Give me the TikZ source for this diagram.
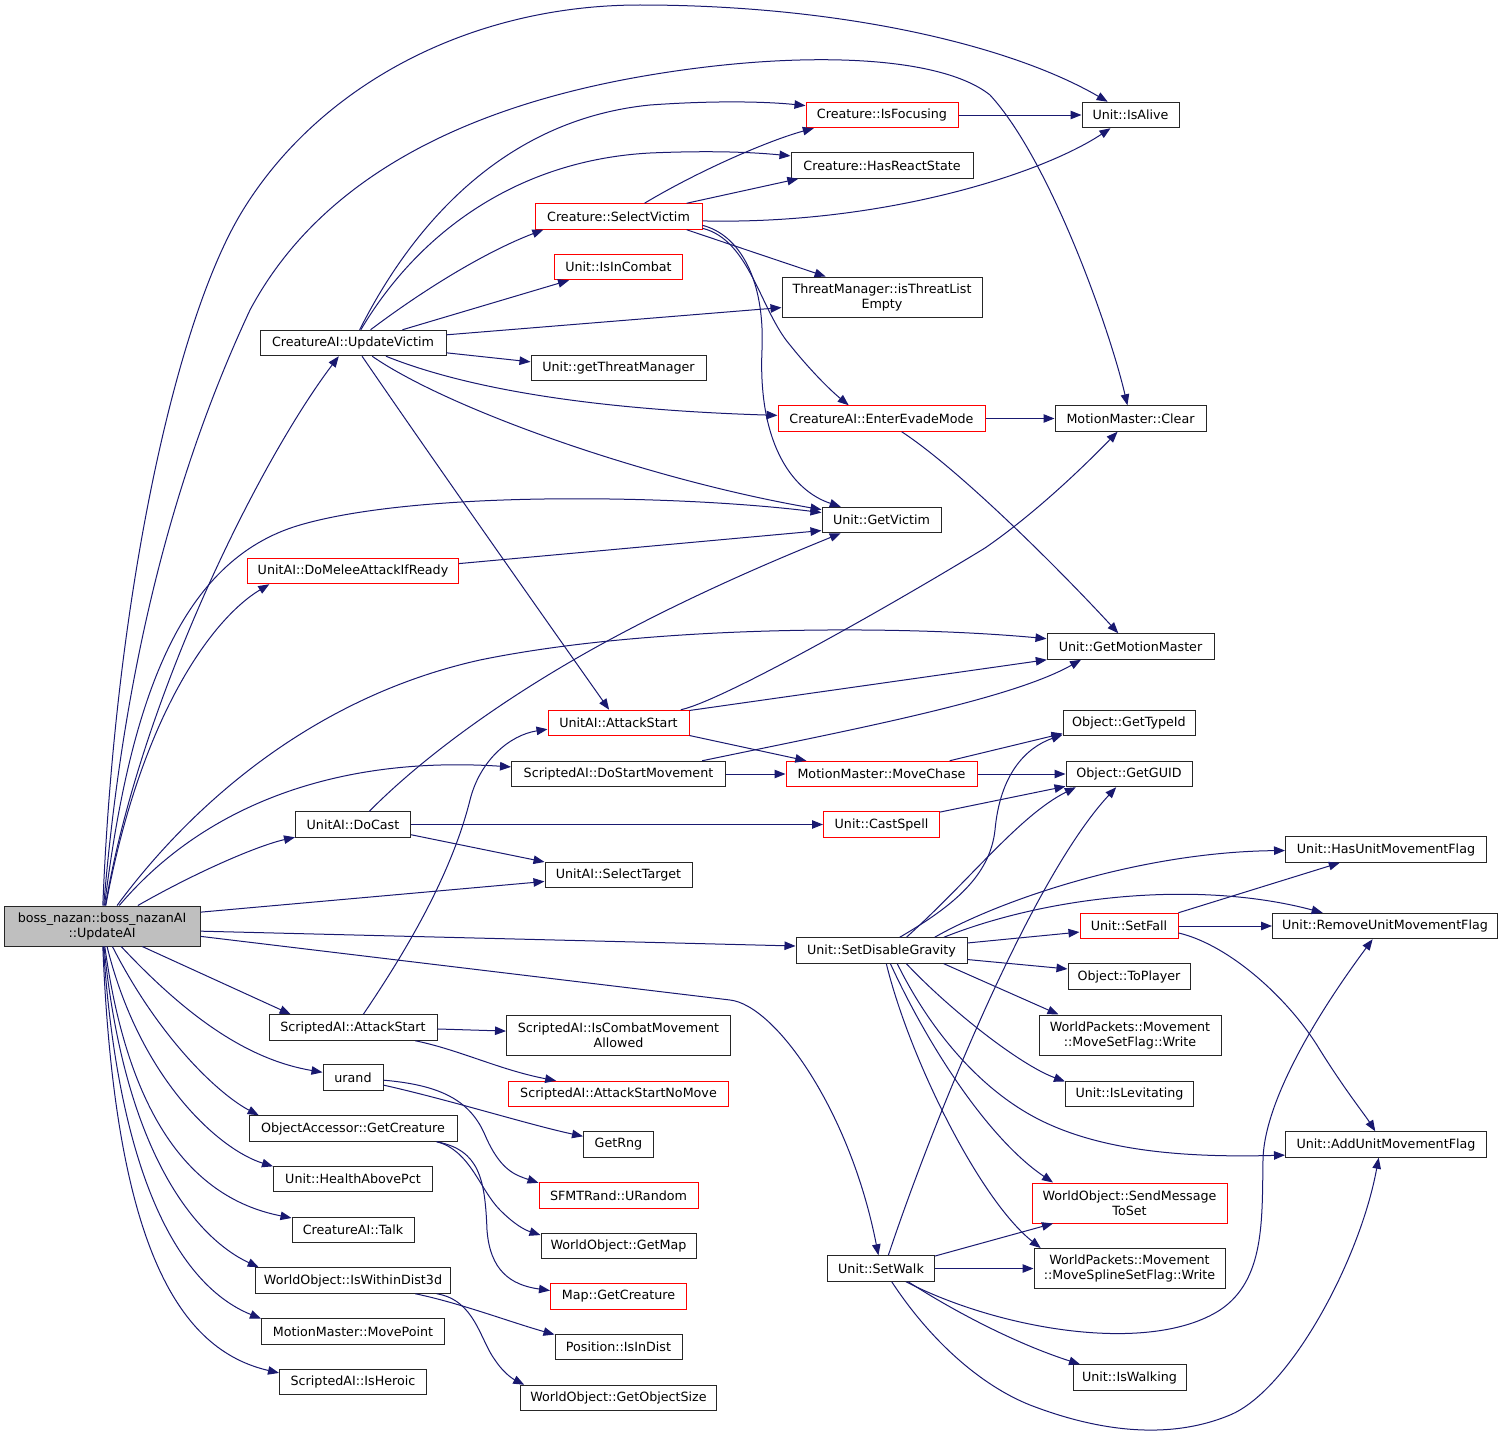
\documentclass[tikz,border=0pt]{standalone}
\usepackage{fontspec}
\setmainfont{DejaVu Sans}
\usetikzlibrary{arrows.meta}
\definecolor{edgeblue}{RGB}{25,25,112}
\definecolor{boxred}{RGB}{255,0,0}
\definecolor{maingray}{RGB}{191,191,191}
\begin{document}
\begin{tikzpicture}[x=1pt, y=-1pt,
    fn/.style={draw=black!85, fill=white, line width=1pt, inner sep=0pt,
      minimum height=25.5pt, align=center, font=\fontsize{12.7}{15}\selectfont},
    fnred/.style={fn, draw=boxred},
    twoline/.style={minimum height=40pt},
    call/.style={draw=edgeblue, line width=1pt, -{Triangle[length=11pt,width=8.5pt]}}]
  \path[fill=white] (0,0) rectangle (1508,1437);
  \useasboundingbox (0,0) rectangle (1508,1437);
  % left column
  \node[fn, fill=maingray, twoline, minimum width=196] (main) at (102,926) {boss\_nazan::boss\_nazanAI\\::UpdateAI};
  \node[fn, minimum width=186] (uvictim) at (353,343) {CreatureAI::UpdateVictim};
  \node[fnred, minimum width=211] (domelee) at (353,571) {UnitAI::DoMeleeAttackIfReady};
  \node[fn, minimum width=115] (docast) at (353,824.5) {UnitAI::DoCast};
  \node[fn, minimum width=168] (sattack) at (353,1027.5) {ScriptedAI::AttackStart};
  \node[fn, minimum width=60] (urand) at (353,1077.5) {urand};
  \node[fn, minimum width=208] (oagetcr) at (353,1128.5) {ObjectAccessor::GetCreature};
  \node[fn, minimum width=159] (health) at (353,1179) {Unit::HealthAbovePct};
  \node[fn, minimum width=122] (talk) at (353,1230) {CreatureAI::Talk};
  \node[fn, minimum width=195] (withindist) at (353,1280.5) {WorldObject::IsWithinDist3d};
  \node[fn, minimum width=183] (movepoint) at (353,1331.5) {MotionMaster::MovePoint};
  \node[fn, minimum width=147] (isheroic) at (353,1382) {ScriptedAI::IsHeroic};
  % second column
  \node[fnred, minimum width=167] (selvictim) at (618.5,216.5) {Creature::SelectVictim};
  \node[fnred, minimum width=128] (isincombat) at (618.5,267) {Unit::IsInCombat};
  \node[fn, minimum width=175] (getthreat) at (618.5,368) {Unit::getThreatManager};
  \node[fnred, minimum width=141] (uaattack) at (618.5,723) {UnitAI::AttackStart};
  \node[fn, minimum width=214] (dostart) at (618.5,774) {ScriptedAI::DoStartMovement};
  \node[fn, minimum width=147] (seltarget) at (618.5,875) {UnitAI::SelectTarget};
  \node[fn, twoline, minimum width=224] (iscombatmove) at (618.5,1035) {ScriptedAI::IsCombatMovement\\Allowed};
  \node[fnred, minimum width=220] (attacknomove) at (618.5,1094) {ScriptedAI::AttackStartNoMove};
  \node[fn, minimum width=70] (getrng) at (618.5,1144.5) {GetRng};
  \node[fnred, minimum width=159] (urandom) at (618.5,1195.5) {SFMTRand::URandom};
  \node[fn, minimum width=155] (getmap) at (618.5,1246) {WorldObject::GetMap};
  \node[fnred, minimum width=136] (mapgetcr) at (618.5,1296.5) {Map::GetCreature};
  \node[fn, minimum width=127] (isindist) at (618.5,1347) {Position::IsInDist};
  \node[fn, minimum width=196] (objsize) at (618.5,1398) {WorldObject::GetObjectSize};
  % third column
  \node[fnred, minimum width=152] (isfocusing) at (882,115) {Creature::IsFocusing};
  \node[fn, minimum width=182] (hasreact) at (882,165.5) {Creature::HasReactState};
  \node[fn, twoline, minimum width=200] (threat) at (882,297) {ThreatManager::isThreatList\\Empty};
  \node[fnred, minimum width=207] (evade) at (881.5,418.5) {CreatureAI::EnterEvadeMode};
  \node[fn, minimum width=119] (getvictim) at (881.5,520) {Unit::GetVictim};
  \node[fnred, minimum width=191] (movechase) at (881.5,774) {MotionMaster::MoveChase};
  \node[fnred, minimum width=116] (castspell) at (881.5,824.5) {Unit::CastSpell};
  \node[fn, minimum width=171] (setdg) at (881.5,950.5) {Unit::SetDisableGravity};
  \node[fn, minimum width=107] (setwalk) at (881,1268.5) {Unit::SetWalk};
  % fourth column
  \node[fn, minimum width=97] (isalive) at (1130.5,115) {Unit::IsAlive};
  \node[fn, minimum width=151] (mmclear) at (1130.5,418.5) {MotionMaster::Clear};
  \node[fn, minimum width=167] (getmm) at (1130.5,646.5) {Unit::GetMotionMaster};
  \node[fn, minimum width=132] (typeid) at (1129,723) {Object::GetTypeId};
  \node[fn, minimum width=126] (guid) at (1129,774) {Object::GetGUID};
  \node[fnred, minimum width=98] (setfall) at (1129,926) {Unit::SetFall};
  \node[fn, minimum width=122] (toplayer) at (1129,976.5) {Object::ToPlayer};
  \node[fn, twoline, minimum width=182] (movesetflag) at (1130,1035) {WorldPackets::Movement\\::MoveSetFlag::Write};
  \node[fn, minimum width=128] (islevitating) at (1129.5,1094) {Unit::IsLevitating};
  \node[fnred, twoline, minimum width=195] (sendmsg) at (1129.5,1203) {WorldObject::SendMessage\\ToSet};
  \node[fn, twoline, minimum width=191] (movespline) at (1129.5,1268.5) {WorldPackets::Movement\\::MoveSplineSetFlag::Write};
  \node[fn, minimum width=113] (iswalking) at (1129.5,1377.5) {Unit::IsWalking};
  % fifth column
  \node[fn, minimum width=201] (hasflag) at (1386,849.5) {Unit::HasUnitMovementFlag};
  \node[fn, minimum width=225] (removeflag) at (1385,926) {Unit::RemoveUnitMovementFlag};
  \node[fn, minimum width=201] (addflag) at (1386,1144.5) {Unit::AddUnitMovementFlag};

  % calls from UpdateAI
  \draw[call] (main) .. controls (115,600) and (175,320) .. (243,210) .. controls (320,85) and (470,5) .. (640,5) .. controls (840,5) and (1010,45) .. (isalive);
  \draw[call] (main) .. controls (125,650) and (180,460) .. (250,310) .. controls (330,160) and (500,100) .. (650,75) .. controls (800,50) and (940,55) .. (990,95) .. controls (1050,160) and (1110,330) .. (mmclear);
  \draw[call] (main) .. controls (140,700) and (260,460) .. (uvictim.223);
  \draw[call] (main) .. controls (130,700) and (180,560) .. (300,525) .. controls (420,490) and (680,495) .. (getvictim);
  \draw[call] (main) .. controls (140,720) and (210,620) .. (domelee.189);
  \draw[call] (main) .. controls (180,820) and (300,700) .. (480,660) .. controls (650,625) and (900,625) .. (getmm);
  \draw[call] (main) .. controls (200,810) and (330,755) .. (dostart);
  \draw[call] (main) .. controls (200,870) and (260,845) .. (docast);
  \draw[call] (main.8) -- (seltarget.185);
  \draw[call] (main.-3) -- (setdg.177);
  \draw[call] (main.-6) -- (730,1000) .. controls (775,1005) and (850,1110) .. (setwalk);
  \draw[call] (main.-27) -- (sattack.168);
  \draw[call] (main) .. controls (190,1020) and (250,1060) .. (urand);
  \draw[call] (main) .. controls (160,1040) and (220,1095) .. (oagetcr.172);
  \draw[call] (main) .. controls (140,1080) and (220,1150) .. (health.171);
  \draw[call] (main) .. controls (130,1130) and (200,1200) .. (talk);
  \draw[call] (main) .. controls (125,1160) and (200,1240) .. (withindist.172);
  \draw[call] (main) .. controls (120,1200) and (190,1290) .. (movepoint.172);
  \draw[call] (main) .. controls (115,1250) and (180,1350) .. (isheroic.173);

  % calls from UpdateVictim
  \draw[call] (uvictim) .. controls (410,230) and (500,120) .. (650,105) .. controls (720,100) and (770,102) .. (isfocusing.173);
  \draw[call] (uvictim) .. controls (420,230) and (520,160) .. (650,153) .. controls (720,150) and (760,153) .. (hasreact.174);
  \draw[call] (uvictim) .. controls (430,285) and (490,250) .. (selvictim.190);
  \draw[call] (uvictim.15) -- (isincombat.195);
  \draw[call] (uvictim.5) -- (threat.186);
  \draw[call] (uvictim.-6) -- (getthreat.176);
  \draw[call] (uvictim) .. controls (470,390) and (600,410) .. (evade);
  \draw[call] (uvictim) .. controls (450,410) and (650,480) .. (getvictim);
  \draw[call] (uvictim) .. controls (440,470) and (560,640) .. (uaattack);

  % calls from SelectVictim
  \draw[call] (selvictim.27) .. controls (700,170) and (770,140) .. (isfocusing.191);
  \draw[call] (selvictim.11) -- (hasreact.189);
  \draw[call] (selvictim.-3) .. controls (880,225) and (1040,175) .. (isalive);
  \draw[call] (selvictim.-11) -- (threat.160);
  \draw[call] (selvictim.-8) .. controls (750,240) and (760,310) .. (790,345) .. controls (810,370) and (830,390) .. (evade.158);
  \draw[call] (selvictim.-6) .. controls (740,235) and (765,280) .. (762,350) .. controls (758,440) and (790,490) .. (getvictim.162);

  \draw[call] (isfocusing) -- (isalive);
  \draw[call] (evade) -- (mmclear);
  \draw[call] (evade) .. controls (960,470) and (1060,570) .. (getmm);
  \draw[call] (domelee.4) -- (getvictim.190);

  % AttackStart, DoStartMovement, DoCast
  \draw[call] (uaattack.12) .. controls (725,700) and (900,600) .. (985,548) .. controls (1040,510) and (1090,460) .. (mmclear);
  \draw[call] (uaattack.10) -- (getmm.189);
  \draw[call] (uaattack.-10) -- (movechase.170);
  \draw[call] (dostart) -- (movechase);
  \draw[call] (dostart.9) .. controls (850,730) and (1010,700) .. (getmm.195);
  \draw[call] (docast.39) .. controls (420,760) and (500,700) .. (600,645) .. controls (700,590) and (800,550) .. (getvictim.198);
  \draw[call] (docast) -- (castspell);
  \draw[call] (docast.-10) -- (seltarget.170);

  % lower left group
  \draw[call] (sattack.52) .. controls (400,960) and (450,880) .. (470,800) .. controls (480,760) and (510,735) .. (uaattack.185);
  \draw[call] (sattack.-1) -- (iscombatmove.178);
  \draw[call] (sattack.-12) .. controls (460,1050) and (500,1070) .. (attacknomove.168);
  \draw[call] (urand.-14) .. controls (450,1100) and (530,1125) .. (getrng.167);
  \draw[call] (urand.-5) .. controls (440,1085) and (470,1100) .. (485,1135) .. controls (500,1170) and (515,1175) .. (urandom.171);
  \draw[call] (oagetcr.-9) .. controls (470,1150) and (480,1190) .. (500,1210) .. controls (515,1225) and (525,1230) .. (getmap.172);
  \draw[call] (oagetcr.-9) .. controls (480,1150) and (485,1180) .. (487,1230) .. controls (490,1270) and (510,1285) .. (mapgetcr.175);
  \draw[call] (withindist.-12) .. controls (460,1303) and (510,1322) .. (isindist.169);
  \draw[call] (withindist.-9) .. controls (475,1300) and (480,1340) .. (495,1360) .. controls (505,1375) and (515,1380) .. (objsize.172);

  % MoveChase, CastSpell
  \draw[call] (movechase.11) -- (typeid.189);
  \draw[call] (movechase) -- (guid);
  \draw[call] (castspell.12) -- (guid.191);

  % SetDisableGravity
  \draw[call] (setdg.36) .. controls (955,905) and (990,875) .. (995,830) .. controls (1000,775) and (1025,748) .. (typeid.190);
  \draw[call] (setdg.28) .. controls (970,880) and (1020,815) .. (guid.194);
  \draw[call] (setdg.14) .. controls (1000,900) and (1140,852) .. (hasflag);
  \draw[call] (setdg.12) .. controls (1050,895) and (1200,880) .. (removeflag.168);
  \draw[call] (setdg.5) -- (setfall.187);
  \draw[call] (setdg.-6) -- (toplayer.173);
  \draw[call] (setdg.-12) -- (movesetflag.164);
  \draw[call] (setdg.-28) .. controls (950,1010) and (1020,1065) .. (islevitating.169);
  \draw[call] (setdg.-40) .. controls (930,1030) and (980,1090) .. (1040,1120) .. controls (1100,1150) and (1180,1158) .. (addflag.186);
  \draw[call] (setdg.-56) .. controls (930,1050) and (990,1140) .. (sendmsg.165);
  \draw[call] (setdg.-70) .. controls (910,1060) and (980,1200) .. (movespline.167);

  % SetFall
  \draw[call] (setfall.15) -- (hasflag.196);
  \draw[call] (setfall) -- (removeflag);
  \draw[call] (setfall.-8) .. controls (1230,945) and (1290,1000) .. (1320,1050) .. controls (1345,1090) and (1365,1115) .. (addflag.129);

  % SetWalk
  \draw[call] (setwalk.61) .. controls (930,1130) and (1030,880) .. (guid.226);
  \draw[call] (setwalk.13) -- (sendmsg.195);
  \draw[call] (setwalk) -- (movespline);
  \draw[call] (setwalk.-28) .. controls (1000,1330) and (1150,1355) .. (1220,1310) .. controls (1265,1280) and (1262,1220) .. (1263,1160) .. controls (1264,1100) and (1320,1010) .. (removeflag.227);
  \draw[call] (setwalk.-26) .. controls (960,1315) and (1020,1345) .. (iswalking.165);
  \draw[call] (setwalk.-51) .. controls (930,1340) and (980,1385) .. (1030,1405) .. controls (1100,1432) and (1170,1440) .. (1230,1415) .. controls (1290,1390) and (1360,1260) .. (addflag.241);
\end{tikzpicture}
\end{document}
